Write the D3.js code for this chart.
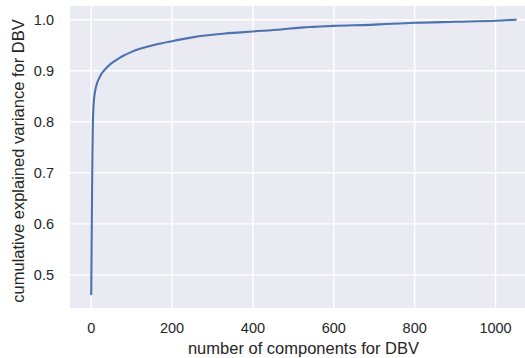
<!DOCTYPE html>
<html>
<head>
<meta charset="utf-8">
<script src="https://cdn.jsdelivr.net/npm/d3@7"></script>
<style>
  html, body { margin: 0; padding: 0; background: #fff; overflow: hidden; }
  svg { display: block; }
  text { font-family: "Liberation Sans", Arial, sans-serif; fill: #262626; }
</style>
</head>
<body>
<div id="chart"></div>
<script>
// number of components vs cumulative explained variance
const components = [0, 1, 2, 3, 4, 6, 8, 10, 15, 20, 26, 35, 43, 60, 76, 100, 117, 158, 200, 240, 281, 331, 400, 470, 525, 550, 600, 690, 800, 900, 1000, 1050];
const cumVariance = [0.462, 0.56, 0.66, 0.74, 0.795, 0.835, 0.852, 0.862, 0.877, 0.886, 0.895, 0.9035, 0.910, 0.920, 0.928, 0.937, 0.942, 0.951, 0.958, 0.964, 0.969, 0.973, 0.977, 0.981, 0.985, 0.986, 0.988, 0.990, 0.994, 0.996, 0.998, 1.0];
const xTicks = [0, 200, 400, 600, 800, 1000];
const yTicks = [0.5, 0.6, 0.7, 0.8, 0.9, 1.0];

const width = 525, height = 358;
const panel = { left: 70, top: 6, right: 537, bottom: 308 };

const svg = d3.select('#chart').append('svg')
    .attr('width', width)
    .attr('height', height);

// matplotlib style 5% margins around the data
const xPad = (1050 - 0) * 0.05;
const yPad = (1.0 - 0.462) * 0.05;
const x = d3.scaleLinear().domain([0 - xPad, 1050 + xPad]).range([panel.left, panel.right]);
const y = d3.scaleLinear().domain([0.462 - yPad, 1.0 + yPad]).range([panel.bottom, panel.top]);

svg.append('rect')
    .attr('x', panel.left)
    .attr('y', panel.top)
    .attr('width', panel.right - panel.left)
    .attr('height', panel.bottom - panel.top)
    .attr('fill', '#eaeaf2');

// grid
svg.append('g').selectAll('line').data(xTicks).enter().append('line')
    .attr('x1', d => x(d)).attr('x2', d => x(d))
    .attr('y1', panel.top).attr('y2', panel.bottom)
    .attr('stroke', '#fff').attr('stroke-width', 1.4);
svg.append('g').selectAll('line').data(yTicks).enter().append('line')
    .attr('y1', d => y(d)).attr('y2', d => y(d))
    .attr('x1', panel.left).attr('x2', panel.right)
    .attr('stroke', '#fff').attr('stroke-width', 1.4);

// tick labels
svg.append('g').selectAll('text').data(xTicks).enter().append('text')
    .attr('x', d => x(d))
    .attr('y', 333)
    .attr('text-anchor', 'middle')
    .style('font-size', '14.5px')
    .text(d => d);
svg.append('g').selectAll('text').data(yTicks).enter().append('text')
    .attr('x', 54)
    .attr('y', d => y(d))
    .attr('dy', '0.36em')
    .attr('text-anchor', 'end')
    .style('font-size', '14.5px')
    .text(d => d.toFixed(1));

// curve
const line = d3.line()
    .x(d => x(d[0]))
    .y(d => y(d[1]))
    .curve(d3.curveMonotoneX);
svg.append('path')
    .datum(components.map((c, i) => [c, cumVariance[i]]))
    .attr('d', line)
    .attr('fill', 'none')
    .attr('stroke', '#4c72b0')
    .attr('stroke-width', 2.1)
    .attr('stroke-linecap', 'round')
    .attr('stroke-linejoin', 'round');

// axis labels
svg.append('text')
    .attr('x', (panel.left + panel.right) / 2)
    .attr('y', 353.5)
    .attr('text-anchor', 'middle')
    .style('font-size', '16.5px')
    .text('number of components for DBV');
svg.append('text')
    .attr('transform', 'translate(18.5,' + ((panel.top + panel.bottom) / 2 + 4) + ') rotate(-90)')
    .attr('text-anchor', 'middle')
    .attr('dy', '0.35em')
    .style('font-size', '16.5px')
    .text('cumulative explained variance for DBV');
</script>
</body>
</html>
